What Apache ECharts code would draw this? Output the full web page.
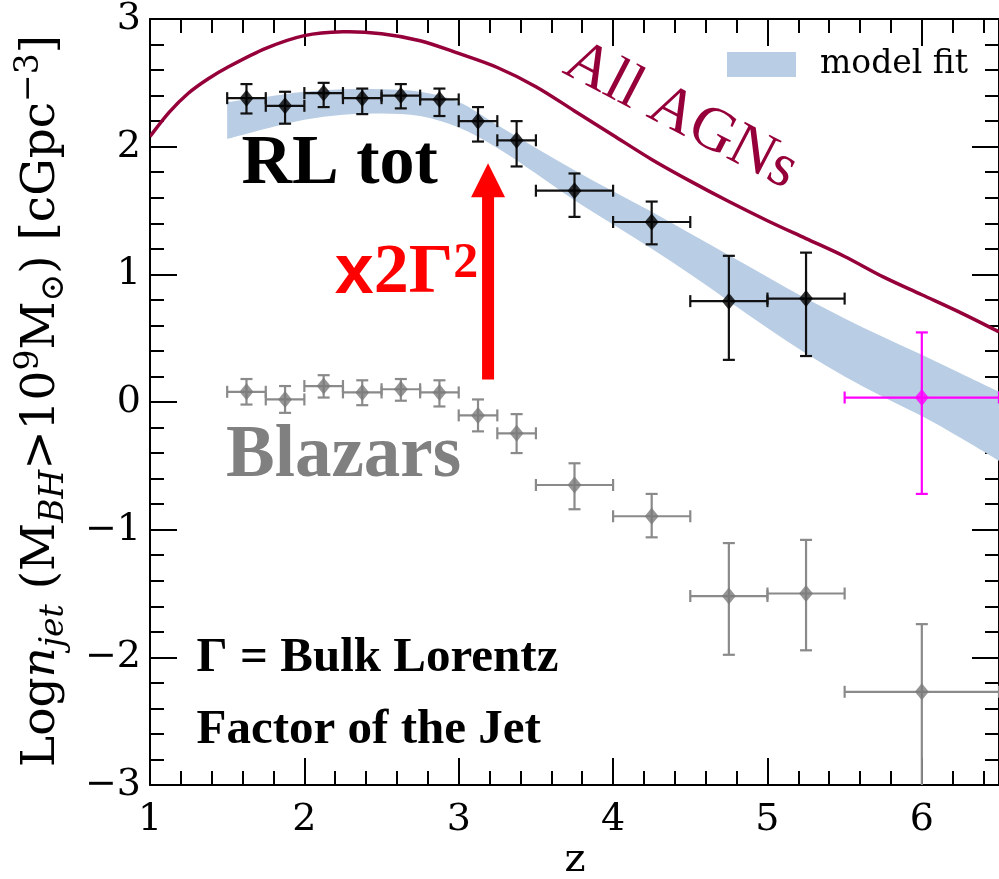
<!DOCTYPE html>
<html>
<head>
<meta charset="utf-8">
<script src="https://cdn.jsdelivr.net/npm/echarts@6/dist/echarts.min.js"></script>
<style>
  html, body { margin: 0; padding: 0; background: #ffffff; }
  #main { width: 999px; height: 879px; }
</style>
</head>
<body>
<div id="main"></div>
<script>
// ---- redshift bins shared by the radio-loud and blazar samples ----
const binZ    = [1.625, 1.875, 2.125, 2.375, 2.625, 2.875, 3.125, 3.375, 3.75, 4.25, 4.75, 5.25];
const binHalf = [0.125, 0.125, 0.125, 0.125, 0.125, 0.125, 0.125, 0.125, 0.25, 0.25, 0.25, 0.25];

// ---- RL tot: log space density of jetted AGN ----
const rlY  = [2.38, 2.32, 2.42, 2.38, 2.40, 2.37, 2.20, 2.05, 1.655, 1.41, 0.79, 0.81];
const rlHi = [2.49, 2.43, 2.50, 2.455, 2.49, 2.455, 2.31, 2.20, 1.79, 1.57, 1.145, 1.17];
const rlLo = [2.26, 2.18, 2.31, 2.255, 2.30, 2.24, 2.04, 1.845, 1.45, 1.235, 0.33, 0.36];

// ---- Blazars (including the wide z = 6 bin) ----
const blzZ    = [...binZ, 6.0];
const blzHalf = [...binHalf, 0.5];
const blzY  = [0.08, 0.02, 0.125, 0.075, 0.10, 0.075, -0.105, -0.245, -0.65, -0.895, -1.52, -1.50, -2.27];
const blzHi = [0.18, 0.125, 0.21, 0.17, 0.18, 0.17, 0.02, -0.095, -0.48, -0.72, -1.105, -1.08, -1.74];
const blzLo = [-0.02, -0.085, 0.035, -0.025, 0.01, -0.035, -0.23, -0.40, -0.84, -1.06, -1.98, -1.945, -3.2];

// ---- high-redshift estimate ----
const hzZ = [6.0], hzHalf = [0.5], hzY = [0.035], hzHi = [0.545], hzLo = [-0.72];

// ---- model fit band ----
const bandZ  = [1.5, 1.75, 2.0, 2.25, 2.5, 2.75, 3.0, 3.25, 3.5, 3.75, 4.0, 4.25, 4.5, 4.75, 5.0, 5.25, 5.5, 5.75, 6.0, 6.25, 6.5];
const bandHi = [2.35, 2.39, 2.43, 2.45, 2.45, 2.43, 2.35, 2.17, 1.99, 1.815, 1.65, 1.49, 1.32, 1.15, 0.98, 0.81, 0.655, 0.51, 0.37, 0.225, 0.08];
const bandLo = [2.06, 2.14, 2.21, 2.25, 2.26, 2.24, 2.15, 1.99, 1.79, 1.58, 1.39, 1.20, 1.00, 0.79, 0.58, 0.38, 0.20, 0.04, -0.11, -0.28, -0.46];

// ---- all AGN (M_BH > 1e9) ----
const agnZ = [1.0, 1.125, 1.25, 1.375, 1.5, 1.75, 2.0, 2.25, 2.5, 2.75, 3.0, 3.25, 3.5, 3.75, 4.0, 4.25, 4.5, 4.75, 5.0, 5.25, 5.5, 5.75, 6.0, 6.25, 6.5];
const agnY = [2.08, 2.27, 2.42, 2.53, 2.62, 2.77, 2.87, 2.90, 2.885, 2.83, 2.73, 2.62, 2.47, 2.28, 2.09, 1.90, 1.73, 1.57, 1.42, 1.28, 1.14, 0.98, 0.84, 0.70, 0.55];

// ---- axis ranges ----
const zMin = 1, zMax = 6.5, yMin = -3, yMax = 3;

const SERIF = 'DejaVu Serif';
const TIMES = 'Liberation Serif';
const AGN_COLOR = '#96003a';
const BAND_COLOR = '#b9cde4';

const minusFmt = v => String(v).replace('-', '\u2212');

// Catmull-Rom spline through pixel points, as cubic Bezier path commands
function splinePath(pts, moveFirst) {
  let d = (moveFirst ? 'M' : 'L') + pts[0][0] + ',' + pts[0][1];
  for (let i = 0; i < pts.length - 1; i++) {
    const p0 = pts[Math.max(i - 1, 0)], p1 = pts[i], p2 = pts[i + 1], p3 = pts[Math.min(i + 2, pts.length - 1)];
    const c1 = [p1[0] + (p2[0] - p0[0]) / 6, p1[1] + (p2[1] - p0[1]) / 6];
    const c2 = [p2[0] - (p3[0] - p1[0]) / 6, p2[1] - (p3[1] - p1[1]) / 6];
    d += 'C' + c1[0] + ',' + c1[1] + ' ' + c2[0] + ',' + c2[1] + ' ' + p2[0] + ',' + p2[1];
  }
  return d;
}

function bandSeries() {
  return {
    type: 'custom',
    name: 'model fit',
    clip: true,
    z: 1,
    silent: true,
    itemStyle: { color: BAND_COLOR },
    data: [[bandZ[0], bandLo[0]]],
    encode: { x: 0, y: 1 },
    renderItem: function (params, api) {
      const upper = bandZ.map((z, i) => api.coord([z, bandHi[i]]));
      const lower = bandZ.map((z, i) => api.coord([z, bandLo[i]])).reverse();
      const d = splinePath(upper, true) + splinePath(lower, false) + 'Z';
      return { type: 'path', shape: { pathData: d }, style: { fill: BAND_COLOR, stroke: null } };
    }
  };
}

function curveSeries(name, z, y, color) {
  return {
    type: 'custom',
    name: name,
    clip: true,
    z: 2,
    silent: true,
    data: [[z[0], y[0]]],
    encode: { x: 0, y: 1 },
    renderItem: function (params, api) {
      const pts = z.map((v, i) => api.coord([v, y[i]]));
      return { type: 'path', shape: { pathData: splinePath(pts, true) }, style: { fill: null, stroke: color, lineWidth: 3.5 } };
    }
  };
}

function errorBars(name, z, half, y, lo, hi, color) {
  return {
    type: 'custom',
    name: name,
    clip: true,
    z: 4,
    silent: true,
    data: z.map((v, i) => [v, y[i], half[i], lo[i], hi[i]]),
    encode: { x: 0, y: 1 },
    renderItem: function (params, api) {
      const x = api.value(0), yv = api.value(1), dx = api.value(2);
      const c = api.coord([x, yv]);
      const l = api.coord([x - dx, yv]);
      const r = api.coord([x + dx, yv]);
      const t = api.coord([x, api.value(4)]);
      const b = api.coord([x, api.value(3)]);
      const cap = 6;
      const st = { stroke: color, lineWidth: 2.2, fill: null };
      const seg = (x1, y1, x2, y2) => ({ type: 'line', shape: { x1, y1, x2, y2 }, style: st });
      return {
        type: 'group',
        children: [
          seg(l[0], c[1], r[0], c[1]),
          seg(c[0], t[1], c[0], b[1]),
          seg(l[0], c[1] - cap, l[0], c[1] + cap),
          seg(r[0], c[1] - cap, r[0], c[1] + cap),
          seg(c[0] - cap, t[1], c[0] + cap, t[1]),
          seg(c[0] - cap, b[1], c[0] + cap, b[1])
        ]
      };
    }
  };
}

function markers(name, z, y, color) {
  return {
    type: 'scatter',
    name: name,
    z: 5,
    silent: true,
    symbol: 'diamond',
    symbolSize: [14, 17],
    itemStyle: { color: color },
    data: z.map((v, i) => [v, y[i]])
  };
}

const xMajor = (pos, labels) => ({
  type: 'value', min: zMin, max: zMax, interval: 1, position: pos,
  axisLine: { show: true, onZero: false, lineStyle: { color: '#000', width: 2 } },
  axisTick: { show: true, inside: true, length: 27, lineStyle: { color: '#000', width: 2 } },
  axisLabel: { show: labels, showMaxLabel: false, margin: 16, fontFamily: SERIF, fontSize: 38, color: '#000', formatter: minusFmt },
  splitLine: { show: false }
});
const xMinor = pos => ({
  type: 'value', min: zMin, max: zMax, interval: 0.2, position: pos,
  axisLine: { show: false, onZero: false },
  axisTick: { show: true, inside: true, length: 14, lineStyle: { color: '#000', width: 2 } },
  axisLabel: { show: false },
  splitLine: { show: false }
});
const yAxisDef = (pos, labels) => ({
  type: 'value', min: yMin, max: yMax, interval: 1, position: pos,
  axisLine: { show: true, onZero: false, lineStyle: { color: '#000', width: 2 } },
  axisTick: { show: true, inside: true, length: 27, lineStyle: { color: '#000', width: 2 } },
  minorTick: { show: true, splitNumber: 5, length: 14, lineStyle: { color: '#000', width: 2 } },
  axisLabel: { show: labels, margin: 9, fontFamily: SERIF, fontSize: 38, color: '#000', formatter: minusFmt },
  splitLine: { show: false }
});

const chart = echarts.init(document.getElementById('main'), null, { renderer: 'canvas' });

const option = {
  animation: false,
  backgroundColor: '#ffffff',
  grid: { left: 150, right: -1, top: 17, bottom: 94, containLabel: false },
  xAxis: [xMajor('bottom', true), xMinor('bottom'), xMajor('top', false), xMinor('top')],
  yAxis: [yAxisDef('left', true), yAxisDef('right', false)],
  legend: {
    left: 727, top: 48, padding: 0,
    itemWidth: 69, itemHeight: 25, itemGap: 10,
    selectedMode: false,
    textStyle: { fontFamily: SERIF, fontSize: 33, color: '#000', padding: [0, 0, 0, 19] },
    data: [{ name: 'model fit', icon: 'rect', itemStyle: { color: BAND_COLOR } }]
  },
  series: [
    bandSeries(),
    curveSeries('All AGNs', agnZ, agnY, AGN_COLOR),
    errorBars('Blazars', blzZ, blzHalf, blzY, blzLo, blzHi, '#8a8a8a'),
    markers('Blazars', blzZ, blzY, '#7a7a7a'),
    errorBars('RL tot', binZ, binHalf, rlY, rlLo, rlHi, '#111111'),
    markers('RL tot', binZ, rlY, '#000000'),
    errorBars('z6', hzZ, hzHalf, hzY, hzLo, hzHi, '#ff00ff'),
    markers('z6', hzZ, hzY, '#ff00ff')
  ]
};
chart.setOption(option);

// ---- annotations, anchored in data coordinates ----
const toPx = p => chart.convertToPixel({ xAxisIndex: 0, yAxisIndex: 0 }, p);

const rlPos      = toPx([1.593, 1.855]);
const blzPos     = toPx([1.492, -0.43]);
const factorPos  = toPx([2.197, 1.004]);
const gammaPos1  = toPx([1.302, -2.01]);
const gammaPos2  = toPx([1.302, -2.574]);
const agnPos     = toPx([4.439, 2.24]);
const arrowTip   = toPx([3.19, 1.87]);
const arrowBase  = toPx([3.19, 0.177]);

const headLen = 34, headHalf = 17, shaftHalf = 6;
const ax = arrowTip[0];

chart.setOption({
  graphic: [
    {
      type: 'text', x: 42, y: 401, rotation: Math.PI / 2, silent: true,
      style: {
        align: 'center', verticalAlign: 'middle', fill: '#000',
        text: '{r|Log}{i|n}{isub|jet}{r| (M}{isub|BH}{r|>10}{sup|9}{r|M}{sub|\u2299}{r|) [cGpc}{sup|\u22123}{r|]}',
        rich: {
          r:    { fontFamily: SERIF, fontSize: 47, lineHeight: 58, fill: '#000' },
          i:    { fontFamily: SERIF, fontStyle: 'italic', fontSize: 47, lineHeight: 58, fill: '#000' },
          isub: { fontFamily: SERIF, fontStyle: 'italic', fontSize: 33, lineHeight: 33, verticalAlign: 'bottom', fill: '#000' },
          sub:  { fontFamily: SERIF, fontSize: 33, lineHeight: 33, verticalAlign: 'bottom', fill: '#000' },
          sup:  { fontFamily: SERIF, fontSize: 33, lineHeight: 33, verticalAlign: 'top', fill: '#000' }
        }
      }
    },
    {
      type: 'text', x: 575, y: 861, silent: true,
      style: { text: 'z', fontFamily: SERIF, fontSize: 40, fill: '#000', align: 'center', verticalAlign: 'middle' }
    },
    {
      type: 'text', x: rlPos[0], y: rlPos[1], silent: true, z: 10,
      style: { text: 'RL tot', fontFamily: TIMES, fontWeight: 'bold', fontSize: 70, fill: '#000', align: 'left', verticalAlign: 'middle' }
    },
    {
      type: 'text', x: blzPos[0], y: blzPos[1], silent: true, z: 10,
      style: { text: 'Blazars', fontFamily: TIMES, fontWeight: 'bold', fontSize: 73, fill: '#808080', align: 'left', verticalAlign: 'middle' }
    },
    {
      type: 'text', x: factorPos[0], y: factorPos[1], silent: true, z: 10,
      style: {
        align: 'left', verticalAlign: 'middle',
        text: '{x|x}{g|2\u0393}{s|2}',
        rich: {
          x: { fontFamily: 'Liberation Sans', fontWeight: 'bold', fontSize: 70, lineHeight: 70, fill: '#ff0000' },
          g: { fontFamily: TIMES, fontWeight: 'bold', fontSize: 70, lineHeight: 70, fill: '#ff0000' },
          s: { fontFamily: TIMES, fontWeight: 'bold', fontSize: 50, lineHeight: 40, verticalAlign: 'top', fill: '#ff0000' }
        }
      }
    },
    {
      type: 'polygon', silent: true, z: 10,
      shape: {
        points: [
          [ax - shaftHalf, arrowBase[1]],
          [ax + shaftHalf, arrowBase[1]],
          [ax + shaftHalf, arrowTip[1] + headLen],
          [ax + headHalf, arrowTip[1] + headLen],
          [ax, arrowTip[1]],
          [ax - headHalf, arrowTip[1] + headLen],
          [ax - shaftHalf, arrowTip[1] + headLen]
        ]
      },
      style: { fill: '#ff0000' }
    },
    {
      type: 'text', x: agnPos[0], y: agnPos[1], rotation: -27.5 * Math.PI / 180, silent: true, z: 10,
      style: { text: 'All AGNs', fontFamily: TIMES, fontSize: 62, fill: AGN_COLOR, align: 'center', verticalAlign: 'middle' }
    },
    {
      type: 'text', x: gammaPos1[0], y: gammaPos1[1], silent: true, z: 10,
      style: { text: '\u0393 = Bulk Lorentz', fontFamily: TIMES, fontWeight: 'bold', fontSize: 49, fill: '#000', align: 'left', verticalAlign: 'middle' }
    },
    {
      type: 'text', x: gammaPos2[0], y: gammaPos2[1], silent: true, z: 10,
      style: { text: 'Factor of the Jet', fontFamily: TIMES, fontWeight: 'bold', fontSize: 49, fill: '#000', align: 'left', verticalAlign: 'middle' }
    }
  ]
});
</script>
</body>
</html>
